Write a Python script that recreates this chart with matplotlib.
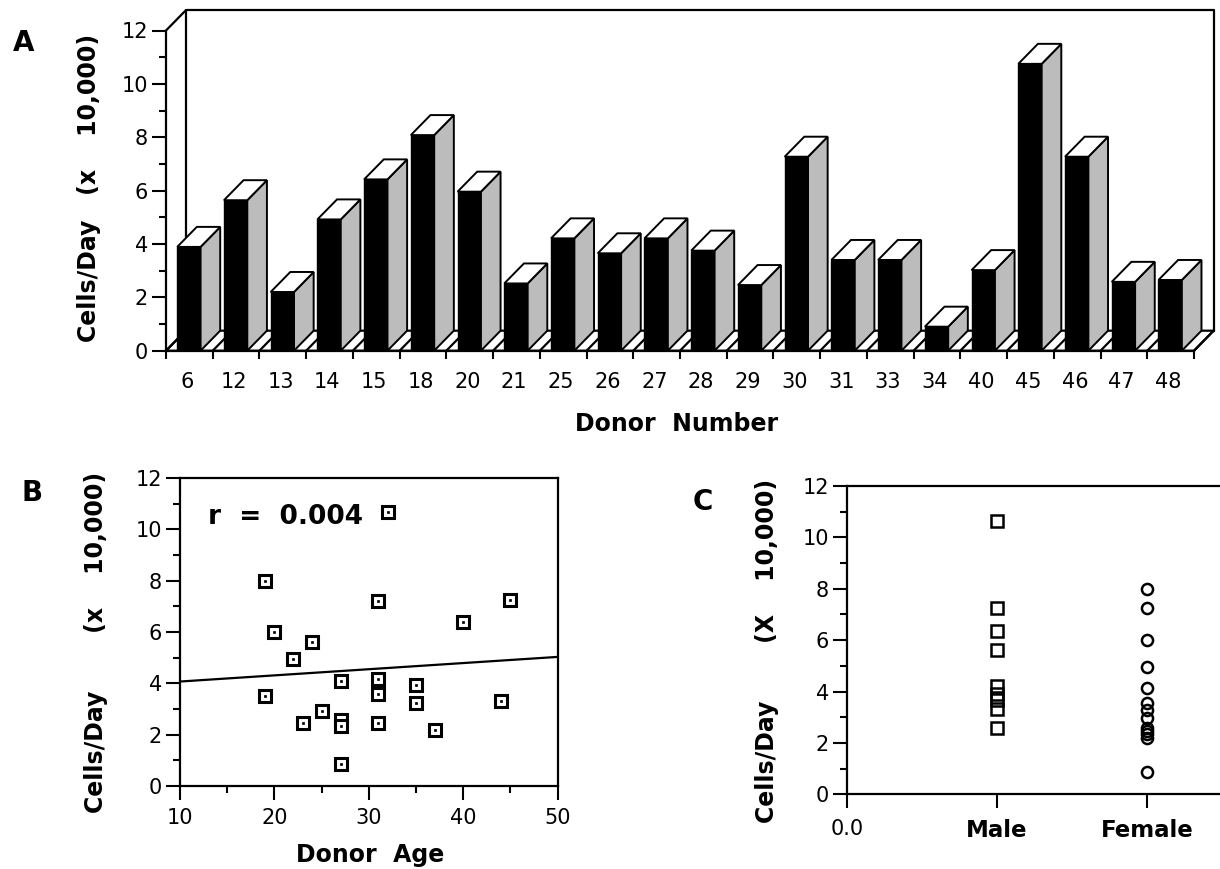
import numpy as np
import matplotlib.pyplot as plt
from matplotlib.patches import Polygon

# figure size in pixels
W, H = 1220, 869

# Panel A: cells/day (x 10,000) per donor
donors = ['6', '12', '13', '14', '15', '18', '20', '21', '25', '26', '27',
          '28', '29', '30', '31', '33', '34', '40', '45', '46', '47', '48']
cells = [3.89, 5.64, 2.2, 4.92, 6.42, 8.08, 5.96, 2.52, 4.21, 3.65, 4.21,
         3.75, 2.46, 7.27, 3.4, 3.4, 0.9, 3.02, 10.75, 7.27, 2.58, 2.65]

# Panel B: donor age vs cells/day
ages = [19, 20, 24, 22, 19, 23, 25, 27, 27, 27, 27,
        31, 31, 31, 31, 32, 35, 35, 37, 40, 45, 44]
age_cells = [8.0, 6.0, 5.6, 4.95, 3.5, 2.46, 2.94, 4.11, 2.58, 2.32, 0.87,
             4.17, 3.6, 2.46, 7.22, 10.66, 3.92, 3.24, 2.19, 6.4, 7.25, 3.33]
fit_age = [10, 50]
fit_cells = [4.07, 5.03]

# Panel C: by sex
male = [10.65, 7.27, 6.37, 5.62, 4.2, 3.92, 3.67, 3.33, 2.57]
female = [8.0, 7.24, 6.0, 4.97, 4.15, 3.57, 3.28, 2.96, 2.57, 2.46, 2.34, 2.18, 0.86]

plt.rcParams['font.family'] = 'DejaVu Sans'

fig = plt.figure(figsize=(W / 100, H / 100), dpi=100)


def add_ax(x0, x1, y0, y1):
    # pixel box: x0/x1 left/right, y0 = bottom (value 0), y1 = top
    return fig.add_axes([x0 / W, 1 - y0 / H, (x1 - x0) / W, (y0 - y1) / H])


def ftext(x, y, s, **kw):
    fig.text(x / W, 1 - y / H, s, **kw)


def y_ticks(ax):
    ax.set_yticks(range(0, 13, 2))
    ax.set_yticks(range(1, 12, 2), minor=True)
    ax.tick_params(axis='y', which='major', length=10, width=1.5, pad=3, labelsize=15)
    ax.tick_params(axis='y', which='minor', length=5, width=1.5)


lw = 1.6
label_font = dict(fontsize=17, fontweight='bold', ha='center', va='center')

# ---------------- A ----------------
ax = add_ax(166, 1194, 350.7, 30.5)
n = len(donors)
ax.set_xlim(0, n)
ax.set_ylim(0, 12)
DX, DY = 0.42, 0.75
ink = dict(color='black', lw=lw, clip_on=False)

ax.add_patch(Polygon([(0, 0), (n, 0), (n + DX, DY), (DX, DY)], closed=True,
                     fc='white', ec='black', lw=lw, clip_on=False, zorder=1))
for i in range(n + 1):
    ax.plot([i, i + DX], [0, DY], zorder=1.5, **ink)
ax.plot([DX, DX, n + DX, n + DX], [DY, 12 + DY, 12 + DY, DY], zorder=1, **ink)
ax.plot([0, DX], [12, 12 + DY], zorder=1, **ink)

x = np.arange(n)
left = x + 0.24
bw = 0.5
ax.bar(left, cells, width=bw, align='edge', color='black', edgecolor='black', lw=1, zorder=3)
for xl, v in zip(left, cells):
    xr = xl + bw
    ax.add_patch(Polygon([(xr, 0), (xr + DX, DY), (xr + DX, v + DY), (xr, v)], closed=True,
                         fc='#bcbcbc', ec='black', lw=1.4, zorder=3, clip_on=False))
    ax.add_patch(Polygon([(xl, v), (xr, v), (xr + DX, v + DY), (xl + DX, v + DY)], closed=True,
                         fc='white', ec='black', lw=1.4, zorder=3, clip_on=False))

for s in ['top', 'right']:
    ax.spines[s].set_visible(False)
for s in ['left', 'bottom']:
    ax.spines[s].set_linewidth(lw)
y_ticks(ax)
ax.set_xticks(range(n + 1))
ax.set_xticklabels([])
ax.set_xticks(x + 0.45, minor=True)
ax.set_xticklabels(donors, minor=True)
ax.tick_params(axis='x', which='major', length=6, width=1.5)
ax.tick_params(axis='x', which='minor', length=0, pad=15, labelsize=15)

ftext(24, 43, 'A', fontsize=20, fontweight='bold', ha='center', va='center')
ftext(89, 188, 'Cells/Day   (x    10,000)', rotation=90, **label_font)
ftext(677, 424, 'Donor  Number', **label_font)

# ---------------- B ----------------
axb = add_ax(180, 557.7, 786, 478)
axb.set_xlim(10, 50)
axb.set_ylim(0, 12)
axb.plot(fit_age, fit_cells, color='black', lw=lw)
axb.plot(ages, age_cells, ls='none', marker='s', ms=9, mfc='white', mec='black', mew=2.2)
axb.plot(ages, age_cells, ls='none', marker='s', ms=1.8, mfc='black', mec='black', mew=0.5)
for s in axb.spines.values():
    s.set_linewidth(lw)
y_ticks(axb)
axb.set_xticks(range(10, 51, 10))
axb.set_xticks(range(15, 50, 10), minor=True)
axb.tick_params(axis='x', which='major', length=10, width=1.5, pad=6, labelsize=15)
axb.tick_params(axis='x', which='minor', length=5, width=1.5)

ftext(32, 493, 'B', fontsize=20, fontweight='bold', ha='center', va='center')
ftext(208, 517, 'r  =  0.004', fontsize=19, fontweight='bold', ha='left', va='center')
ftext(96, 642, 'Cells/Day       (x    10,000)', rotation=90, **label_font)
ftext(370, 855, 'Donor  Age', **label_font)

# ---------------- C ----------------
axc = add_ax(847, 847 + 2.6 * 150, 794.3, 486)
axc.set_xlim(0, 2.6)
axc.set_ylim(0, 12)
axc.plot(np.ones(len(male)), male, ls='none', marker='s', ms=8.5, mfc='none', mec='black', mew=1.8)
axc.plot(np.full(len(female), 2), female, ls='none', marker='o', ms=8, mfc='none', mec='black', mew=1.8)
axc.spines['right'].set_visible(False)
for s in ['top', 'left', 'bottom']:
    axc.spines[s].set_linewidth(lw)
y_ticks(axc)
axc.set_xticks([0, 1, 2])
axc.set_xticklabels(['0.0', 'Male', 'Female'])
axc.tick_params(axis='x', which='major', length=10, width=1.5, pad=8, labelsize=15)
for t in axc.get_xticklabels()[1:]:
    t.set_fontweight('bold')
    t.set_fontsize(16.5)

ftext(703, 502, 'C', fontsize=20, fontweight='bold', ha='center', va='center')
ftext(767, 651, 'Cells/Day       (X    10,000)', rotation=90, **label_font)

fig.savefig('out.png', dpi=100)
